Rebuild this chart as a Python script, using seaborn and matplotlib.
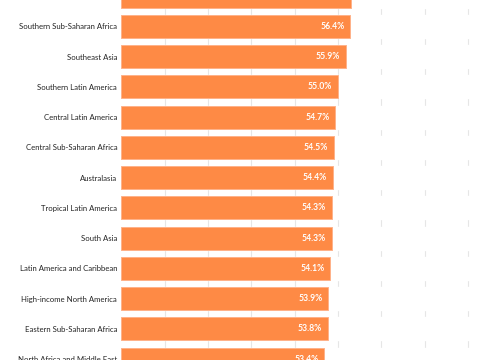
import matplotlib
matplotlib.use("Agg")
import matplotlib.pyplot as plt
import seaborn as sns
import pandas as pd

regions = ["Caribbean", "Southern Sub-Saharan Africa", "Southeast Asia", "Southern Latin America",
           "Central Latin America", "Central Sub-Saharan Africa", "Australasia",
           "Tropical Latin America", "South Asia", "Latin America and Caribbean",
           "High-income North America", "Eastern Sub-Saharan Africa", "North Africa and Middle East"]
shares = [56.5, 56.4, 55.9, 55.0, 54.7, 54.5, 54.4, 54.3, 54.3, 54.1, 53.9, 53.8, 53.4]

df = pd.DataFrame({"Region": regions, "Share": shares})

sns.set_style("white")
plt.rcParams["font.family"] = ["Lato", "DejaVu Sans"]

x_min, x_max = 30, 71.4
orange = "#fe8a45"

fig = plt.figure(figsize=(4.8, 3.6), dpi=100)
ax = fig.add_axes([0.2527, 0, 0.7473, 1])

# light grid only visible in the gaps between rows
for g in range(35, 71, 5):
    ax.axvline(g, color="#e6e6e6", lw=0.8, zorder=0)
ax.barh(range(len(regions)), [x_max - x_min] * len(regions), left=x_min,
        height=0.76, color="white", zorder=1)

sns.barplot(data=df, x="Share", y="Region", orient="h", color=orange,
            width=0.76, saturation=1, ax=ax)
for p in ax.patches[len(regions):]:
    p.set_zorder(2)
    p.set_edgecolor("#ffb28a")
    p.set_linewidth(0.7)
    # bars start at the left edge of the axis
    w = p.get_x() + p.get_width()
    p.set_x(x_min)
    p.set_width(w - x_min)

for i, v in enumerate(shares):
    ax.annotate(f"{v:.1f}%", (v, i), xytext=(-4, 0), textcoords="offset points",
                ha="right", va="center", color="white", fontsize=6.2,
                fontweight="bold", zorder=3)

ax.set_xlim(x_min, x_max)
ax.set_ylim(12.03, 0.13)
ax.set_xlabel("")
ax.set_ylabel("")
ax.set_xticks([])
ax.tick_params(axis="y", length=0, pad=3, labelsize=5.6, labelcolor="#222222")
sns.despine(ax=ax, left=True, bottom=True)

fig.savefig("out.png", dpi=100)
